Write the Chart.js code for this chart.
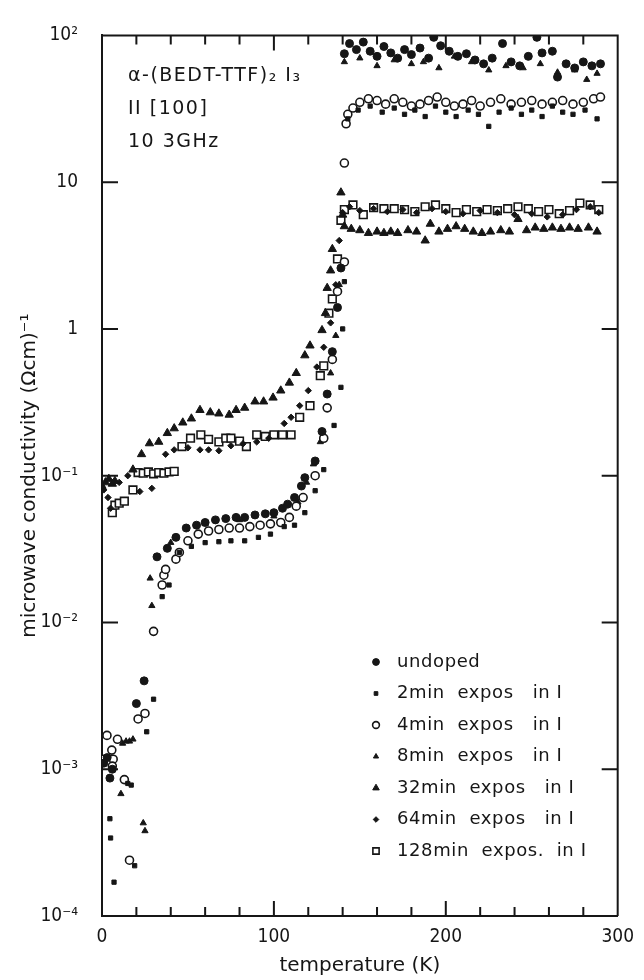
<!DOCTYPE html>
<html>
<head>
<meta charset="utf-8">
<script src="https://cdn.jsdelivr.net/npm/chart.js@4.4.0/dist/chart.umd.min.js"></script>
<style>
  html, body { margin: 0; padding: 0; background: #fff; }
  #wrap { width: 644px; height: 980px; }
</style>
</head>
<body>
<div id="wrap"><canvas id="condChart" width="644" height="980"></canvas></div>
<script>
// microwave conductivity of a-(BEDT-TTF)2I3 vs temperature, [T (K), sigma (Ohm cm)^-1]
const undoped = [
  [1, 1.1e-3], [3, 1.2e-3], [4.6, 8.7e-4], [6, 1.0e-3], [20, 2.8e-3], [24.5, 4.0e-3],
  [32, 0.028], [38, 0.032], [43, 0.038], [49, 0.044], [55, 0.046], [60, 0.048], [66, 0.05],
  [72, 0.051], [78, 0.052], [83, 0.052], [89, 0.054], [95, 0.055], [100, 0.056], [105, 0.06],
  [108, 0.064], [112, 0.071], [116, 0.085], [118, 0.097], [124, 0.126], [128, 0.2], [131, 0.36],
  [134, 0.7], [137, 1.4], [139, 2.6],
  [141, 75], [144, 88], [148, 80], [152, 90], [156, 78], [160, 72], [164, 84], [168, 76],
  [172, 70], [176, 80], [180, 74], [185, 82], [190, 70], [193, 97], [197, 85], [202, 78],
  [207, 72], [212, 75], [217, 68], [222, 64], [227, 70], [233, 88], [238, 66], [243, 62],
  [248, 72], [253, 97], [256, 76], [262, 78], [265, 52], [270, 64], [275, 60], [280, 66],
  [285, 62], [290, 64]
];
const min2 = [
  [4.6, 4.6e-4], [5, 3.4e-4], [7, 1.7e-4], [15, 8e-4], [17, 7.8e-4], [19, 2.2e-4], [26, 1.8e-3],
  [30, 3.0e-3], [35, 0.015], [39, 0.018], [45, 0.03], [52, 0.033], [60, 0.035], [68, 0.0355],
  [75, 0.036], [83, 0.036], [91, 0.038], [98, 0.04], [106, 0.045], [112, 0.046], [118, 0.056],
  [124, 0.079], [129, 0.11], [135, 0.22], [139, 0.4], [140, 1.0], [141, 2.1],
  [143, 27], [149, 31], [156, 33], [163, 30], [170, 32], [176, 29], [182, 31], [188, 28],
  [194, 33], [200, 30], [206, 28], [213, 31], [219, 29], [225, 24], [231, 30], [238, 32],
  [244, 29], [250, 31], [256, 28], [262, 33], [268, 30], [274, 29], [281, 31], [288, 27]
];
const min4 = [
  [0.6, 1.17e-3], [2.9, 1.7e-3], [5.7, 1.35e-3], [6.5, 1.17e-3], [6, 1.05e-3], [9, 1.6e-3],
  [13, 8.5e-4], [16, 2.4e-4], [21, 2.2e-3], [25, 2.4e-3], [30, 8.7e-3], [35, 0.018], [36, 0.021],
  [37, 0.023], [43, 0.027], [45, 0.03], [50, 0.036], [56, 0.04], [62, 0.042], [68, 0.043],
  [74, 0.044], [80, 0.044], [86, 0.045], [92, 0.046], [98, 0.047], [104, 0.048], [109, 0.052],
  [113, 0.062], [117, 0.071], [124, 0.1], [129, 0.18], [131, 0.29], [134, 0.62], [137, 1.8],
  [141, 2.86], [141, 13.5], [142, 25], [143, 29], [146, 32], [150, 35], [155, 37], [160, 36],
  [165, 34], [170, 37], [175, 35], [180, 33], [185, 34], [190, 36], [195, 38], [200, 35],
  [205, 33], [210, 34], [215, 36], [220, 33], [226, 35], [232, 37], [238, 34], [244, 35],
  [250, 36], [256, 34], [262, 35], [268, 36], [274, 34], [280, 35], [286, 37], [290, 38]
];
const min8 = [
  [11, 6.8e-4], [12, 1.5e-3], [14, 1.55e-3], [16, 1.55e-3], [18, 1.6e-3], [24, 4.3e-4],
  [25, 3.8e-4], [28, 0.02], [29, 0.013], [40, 0.035], [60, 0.047], [80, 0.05], [100, 0.053],
  [114, 0.066], [119, 0.09], [123, 0.12], [127, 0.17], [133, 0.5], [136, 0.9], [138, 2.0],
  [141, 66], [150, 70], [160, 62], [170, 68], [180, 64], [187, 66], [196, 60], [205, 72],
  [215, 66], [225, 58], [235, 62], [245, 60], [255, 64], [265, 56], [275, 58], [282, 50], [288, 55]
];
const min32 = [
  [0, 0.085], [2, 0.09], [4, 0.095], [6, 0.088], [7.5, 0.092], [18, 0.11], [23, 0.14],
  [27.6, 0.166], [33, 0.17], [38, 0.195], [42, 0.21], [47, 0.23], [52, 0.245], [57, 0.28],
  [63, 0.27], [68, 0.265], [74, 0.26], [78, 0.28], [83, 0.29], [89, 0.32], [94, 0.32],
  [99.5, 0.34], [104, 0.38], [109, 0.43], [113, 0.5], [118, 0.66], [121, 0.77], [128, 0.98],
  [130, 1.28], [131, 1.9], [133, 2.5], [134, 3.5], [139, 8.5], [140, 6], [141, 5], [145, 4.8],
  [150, 4.7], [155, 4.5], [160, 4.6], [164, 4.5], [168, 4.6], [172, 4.5], [178, 4.7], [183, 4.6],
  [188, 4.0], [191, 5.2], [196, 4.6], [201, 4.8], [206, 5.0], [211, 4.8], [216, 4.6], [221, 4.5],
  [226, 4.6], [232, 4.7], [237, 4.6], [242, 5.6], [247, 4.7], [252, 4.9], [257, 4.8], [262, 4.9],
  [267, 4.8], [272, 4.9], [277, 4.8], [283, 4.9], [288, 4.6]
];
const min64 = [
  [1, 0.08], [3.5, 0.071], [5, 0.06], [10, 0.09], [15, 0.1], [22, 0.078], [29, 0.082],
  [37, 0.14], [42, 0.15], [50, 0.155], [57, 0.15], [62, 0.15], [68, 0.148], [75, 0.16],
  [82, 0.165], [90, 0.17], [97, 0.18], [106, 0.227], [110, 0.25], [115, 0.3], [120, 0.38],
  [125, 0.55], [129, 0.75], [133, 1.1], [136, 2.0], [138, 4.0], [140, 6.2], [144, 6.8],
  [150, 6.4], [158, 6.6], [166, 6.3], [175, 6.5], [183, 6.2], [192, 6.6], [200, 6.3],
  [210, 6.1], [220, 6.4], [230, 6.2], [240, 6.0], [250, 6.1], [259, 5.8], [268, 6.0],
  [276, 6.5], [284, 6.8], [289, 6.2]
];
const min128 = [
  [6, 0.056], [7.5, 0.063], [10, 0.065], [13, 0.067], [18, 0.08], [21, 0.105], [24, 0.104],
  [27, 0.106], [30, 0.103], [33, 0.105], [36, 0.104], [39, 0.106], [42, 0.107], [46.5, 0.158],
  [51.5, 0.18], [57.5, 0.19], [62, 0.177], [68, 0.17], [72, 0.18], [75, 0.18], [80, 0.172],
  [84, 0.158], [90, 0.19], [95, 0.185], [100, 0.19], [105, 0.19], [110, 0.19], [115, 0.25],
  [121, 0.3], [127, 0.48], [129, 0.56], [132, 1.28], [134, 1.6], [137, 3.0], [139, 5.5],
  [141, 6.5], [146, 7.0], [152, 6.0], [158, 6.7], [164, 6.6], [170, 6.6], [176, 6.5],
  [182, 6.3], [188, 6.8], [194, 7.0], [200, 6.6], [206, 6.2], [212, 6.5], [218, 6.3],
  [224, 6.5], [230, 6.4], [236, 6.6], [242, 6.8], [248, 6.6], [254, 6.3], [260, 6.5],
  [266, 6.1], [272, 6.4], [278, 7.2], [284, 7.0], [289, 6.5]
];

const seriesLabels = ['undoped', '2min  expos   in I', '4min  expos   in I', '8min  expos   in I',
  '32min  expos   in I', '64min  expos   in I', '128min  expos.  in I'];
const yExponents = [-4, -3, -2, -1, 0, 1, 2];
const yTickLabels = ['10⁻⁴', '10⁻³', '10⁻²', '10⁻¹', '1', '10', '10²'];
const noteLines = ['α-(BEDT-TTF)₂ I₃', 'II [100]', '10 3GHz'];

const INK = '#161616';
const FONT = "'DejaVu Sans', sans-serif";
const FONT_NARROW = "'DejaVu Sans Condensed', 'DejaVu Sans', sans-serif";

const styles = [
  { pointStyle: 'circle', radius: 4, fill: INK, legendRadius: 3.4 },
  { pointStyle: 'rect', radius: 3, fill: INK, legendRadius: 2.6 },
  { pointStyle: 'circle', radius: 4, fill: '#fff', legendRadius: 3.4 },
  { pointStyle: 'triangle', radius: 3.6, fill: INK, legendRadius: 3 },
  { pointStyle: 'triangle', radius: 4.8, fill: INK, legendRadius: 3.8 },
  { pointStyle: 'rectRot', radius: 3.2, fill: INK, legendRadius: 2.8 },
  { pointStyle: 'rect', radius: 5.4, fill: '#fff', legendRadius: 4.4 }
];

function toPoints(list) { return list.map(p => ({ x: p[0], y: p[1] })); }

const datasets = [undoped, min2, min4, min8, min32, min64, min128].map((d, i) => ({
  label: seriesLabels[i],
  data: toPoints(d),
  pointStyle: styles[i].pointStyle,
  pointRadius: styles[i].radius,
  pointBackgroundColor: styles[i].fill,
  pointBorderColor: INK,
  pointBorderWidth: styles[i].fill === '#fff' ? 1.6 : 1,
  showLine: false
}));

// frame, inward ticks, annotation and legend
const decorations = {
  id: 'decorations',
  afterDraw(chart) {
    const { ctx, chartArea: a, scales: { x, y } } = chart;
    ctx.save();
    ctx.strokeStyle = INK;
    ctx.lineWidth = 2;
    ctx.beginPath();
    ctx.moveTo(a.left, a.top); ctx.lineTo(a.right, a.top); ctx.lineTo(a.right, a.bottom);
    for (let t = 20; t < 300; t += 20) {
      const px = x.getPixelForValue(t);
      const len = t % 100 === 0 ? 15 : 9;
      ctx.moveTo(px, a.bottom); ctx.lineTo(px, a.bottom - len);
      ctx.moveTo(px, a.top); ctx.lineTo(px, a.top + len);
    }
    yExponents.slice(1, -1).forEach(e => {
      const py = y.getPixelForValue(Math.pow(10, e));
      ctx.moveTo(a.left, py); ctx.lineTo(a.left + 16, py);
      ctx.moveTo(a.right, py); ctx.lineTo(a.right - 16, py);
    });
    ctx.stroke();

    ctx.fillStyle = INK;
    ctx.textBaseline = 'middle';
    ctx.textAlign = 'left';
    ctx.font = '19px ' + FONT;
    ctx.letterSpacing = '1.5px';
    noteLines.forEach((s, i) => ctx.fillText(s, 128, 76 + i * 33));

    ctx.font = '18px ' + FONT;
    ctx.letterSpacing = '0.6px';
    chart.data.datasets.forEach((ds, i) => {
      const ly = 662 + i * 31.5;
      ctx.fillStyle = ds.pointBackgroundColor;
      ctx.strokeStyle = INK;
      ctx.lineWidth = ds.pointBorderWidth;
      Chart.helpers.drawPoint(ctx, {
        pointStyle: ds.pointStyle,
        radius: styles[i].legendRadius,
        rotation: 0,
        borderWidth: ds.pointBorderWidth
      }, 376, ly);
      ctx.fillStyle = INK;
      ctx.fillText(ds.label, 397, ly);
    });
    ctx.restore();
  }
};

new Chart(document.getElementById('condChart'), {
  type: 'scatter',
  data: { datasets },
  options: {
    responsive: false,
    animation: false,
    layout: { padding: { top: 23, right: 20, left: 0, bottom: 0 } },
    plugins: { legend: { display: false }, tooltip: { enabled: false } },
    scales: {
      x: {
        type: 'linear', min: 0, max: 300,
        grid: { display: false, drawTicks: false },
        border: { color: INK, width: 2 },
        ticks: { stepSize: 100, color: INK, padding: 10, maxRotation: 0, font: { family: FONT_NARROW, size: 19 } },
        title: { display: true, text: 'temperature (K)', color: INK, padding: { top: 0, bottom: 2 }, font: { family: FONT, size: 20 } },
        afterFit: s => { s.height = 64; }
      },
      y: {
        type: 'logarithmic', min: 1e-4, max: 100,
        grid: { display: false, drawTicks: false },
        border: { color: INK, width: 2 },
        afterBuildTicks: s => { s.ticks = yExponents.map(e => ({ value: Math.pow(10, e) })); },
        ticks: {
          color: INK, padding: 24, autoSkip: false, font: { family: FONT_NARROW, size: 19 },
          callback: v => yTickLabels[yExponents.indexOf(Math.round(Math.log10(v)))]
        },
        title: { display: true, text: 'microwave conductivity (Ωcm)⁻¹', color: INK, padding: { top: 18, bottom: 0 }, font: { family: FONT, size: 20 } },
        afterFit: s => { s.width = 102; }
      }
    }
  },
  plugins: [decorations]
});
</script>
</body>
</html>
